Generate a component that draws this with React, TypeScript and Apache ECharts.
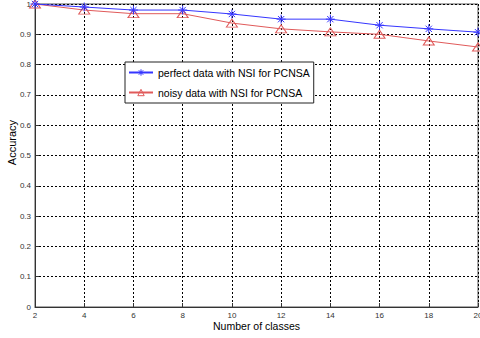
import React, { useEffect, useRef } from "react";
import * as echarts from "echarts";

const classes = [2, 4, 6, 8, 10, 12, 14, 16, 18, 20];
const perfect = [1.0, 0.99, 0.98, 0.98, 0.967, 0.95, 0.95, 0.93, 0.918, 0.907];
const noisy = [1.0, 0.98, 0.968, 0.968, 0.937, 0.918, 0.908, 0.9, 0.878, 0.858];
const seriesNames = ["perfect data with NSI for PCNSA", "noisy data with NSI for PCNSA"];

const star = "path://M0,5 L10,5 M5,0 L5,10 M1.5,1.5 L8.5,8.5 M8.5,1.5 L1.5,8.5";
const blue = "#3535ff";
const red = "#e05a5a";

export default function App() {
  const ref = useRef<HTMLDivElement>(null);
  useEffect(() => {
    if (!ref.current) return;
    const chart = echarts.init(ref.current, null, { renderer: "svg" });
    const font = "Arial, 'Liberation Sans', sans-serif";
    chart.setOption({
      animation: false,
      backgroundColor: "#fff",
      textStyle: { fontFamily: font },
      grid: {
        left: 35, right: 2, top: 4, bottom: 31,
        containLabel: false, outerBoundsMode: "none",
        show: true, borderColor: "#555", borderWidth: 1, backgroundColor: "transparent",
      },
      legend: {
        left: 125,
        top: 62,
        orient: "vertical",
        backgroundColor: "#fff",
        borderColor: "#222",
        borderWidth: 1,
        borderRadius: 0,
        padding: [5, 4, 5, 3],
        itemGap: 9,
        itemWidth: 24,
        itemHeight: 8,
        textStyle: { fontSize: 10.5, color: "#000", fontFamily: font },
        data: [
          { name: seriesNames[0], itemStyle: { color: "transparent", borderColor: blue, borderWidth: 1 } },
          { name: seriesNames[1], itemStyle: { color: "transparent", borderColor: red, borderWidth: 1 } },
        ],
      },
      xAxis: {
        type: "value",
        min: 2,
        max: 20,
        interval: 2,
        name: "Number of classes",
        nameLocation: "middle",
        nameGap: 13,
        nameMoveOverlap: false,
        nameTextStyle: { fontSize: 10.5, color: "#000" },
        axisLine: { show: true, onZero: false, lineStyle: { color: "#333" } },
        axisTick: { inside: true, length: 4, lineStyle: { color: "#333" } },
        axisLabel: { fontSize: 8, color: "#333", margin: 4 },
        splitLine: { show: true, lineStyle: { color: "#000", type: [2, 2], width: 1 } },
      },
      yAxis: {
        type: "value",
        min: 0,
        max: 1,
        interval: 0.1,
        name: "Accuracy",
        nameLocation: "middle",
        nameGap: 18,
        nameMoveOverlap: false,
        nameTextStyle: { fontSize: 11, color: "#000", padding: [0, 0, 0, 26] },
        axisLine: { show: true, lineStyle: { color: "#333" } },
        axisTick: { inside: true, length: 4, lineStyle: { color: "#333" } },
        axisLabel: { fontSize: 8, color: "#333", margin: 4 },
        splitLine: { show: true, lineStyle: { color: "#000", type: [2, 2], width: 1 } },
      },
      series: [
        {
          name: seriesNames[0],
          type: "line",
          data: classes.map((c, i) => [c, perfect[i]]),
          symbol: star,
          symbolSize: 9,
          lineStyle: { color: blue, width: 1 },
          itemStyle: { color: "transparent", borderColor: blue, borderWidth: 1 },
          z: 3,
        },
        {
          name: seriesNames[1],
          type: "line",
          data: classes.map((c, i) => [c, noisy[i]]),
          symbol: "triangle",
          symbolSize: [11, 8],
          lineStyle: { color: red, width: 1 },
          itemStyle: { color: "transparent", borderColor: red, borderWidth: 1 },
          z: 2,
        },
      ],
    });
    return () => chart.dispose();
  }, []);
  return <div ref={ref} style={{ position: "fixed", left: 0, top: 0, width: 480, height: 338 }} />;
}
